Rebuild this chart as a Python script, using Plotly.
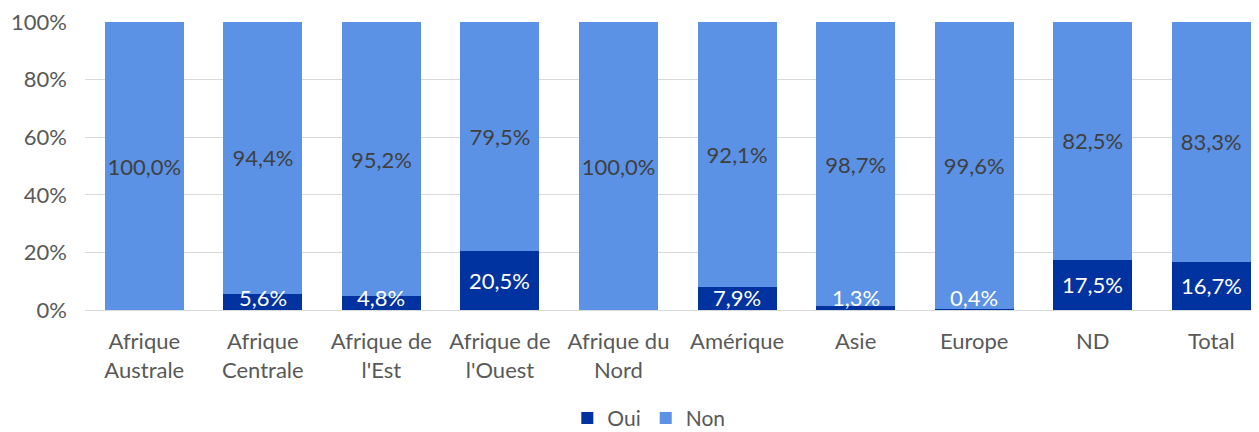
import plotly.graph_objects as go

# Part de réponses par région (%)
categories = ["Afrique<br>Australe", "Afrique<br>Centrale", "Afrique de<br>l'Est",
              "Afrique de<br>l'Ouest", "Afrique du<br>Nord", "Amérique", "Asie",
              "Europe", "ND", "Total"]
oui = [0.0, 5.6, 4.8, 20.5, 0.0, 7.9, 1.3, 0.4, 17.5, 16.7]
non = [100.0, 94.4, 95.2, 79.5, 100.0, 92.1, 98.7, 99.6, 82.5, 83.3]
y_ticks = [0, 20, 40, 60, 80, 100]

FONT = "Lato"
OUI_COLOR = "#0033A0"
NON_COLOR = "#5B92E5"


def fmt(v):
    return f"{v:.1f}".replace(".", ",") + "%"


fig = go.Figure()

fig.add_trace(go.Bar(
    x=categories, y=oui, name="Oui",
    marker_color=OUI_COLOR, marker_line_width=0,
    hoverinfo="skip",
))

fig.add_trace(go.Bar(
    x=categories, y=non, name="Non",
    marker_color=NON_COLOR, marker_line_width=0,
    text=[fmt(v) for v in non],
    textposition="inside", insidetextanchor="middle", textangle=0,
    constraintext="none",
    textfont=dict(family=FONT, size=22, color="#404040"),
    hoverinfo="skip",
))

# étiquettes "Oui" (gardées dans la zone de tracé pour les petites valeurs)
for c, v in zip(categories, oui):
    if v <= 0:
        continue
    fig.add_annotation(
        x=c, y=max(v / 2, 4.2), text=fmt(v), showarrow=False,
        font=dict(family=FONT, size=22, color="white"),
        xref="x", yref="y",
    )

# la page ajoute une marge de 8 px autour du graphique
fig.update_layout(
    barmode="stack",
    bargap=0.334,
    width=1259, height=432,
    margin=dict(l=77, r=0, t=14, b=130),
    plot_bgcolor="white", paper_bgcolor="white",
    font=dict(family=FONT, size=22, color="#595959"),
    showlegend=True,
    legend=dict(
        orientation="h", x=0.477, xanchor="center",
        yref="container", y=0.05, yanchor="middle",
        traceorder="normal",
        font=dict(family=FONT, size=21, color="#595959"),
        itemwidth=30,
    ),
)

fig.update_xaxes(
    range=[-0.5, 9.47],
    showgrid=False, showline=True, linecolor="#d9d9d9", linewidth=1,
    ticks="", ticklabelstandoff=12,
    tickfont=dict(family=FONT, size=22, color="#595959"),
    fixedrange=True,
)

fig.update_yaxes(
    range=[0, 100],
    tickvals=y_ticks, ticktext=[f"{t}%" for t in y_ticks],
    showgrid=True, gridcolor="#d9d9d9", gridwidth=1,
    zeroline=False, showline=False, ticks="",
    ticklabelstandoff=17, ticklabeloverflow="allow",
    tickfont=dict(family=FONT, size=22, color="#595959"),
    fixedrange=True,
)

fig.write_html("out.html")
